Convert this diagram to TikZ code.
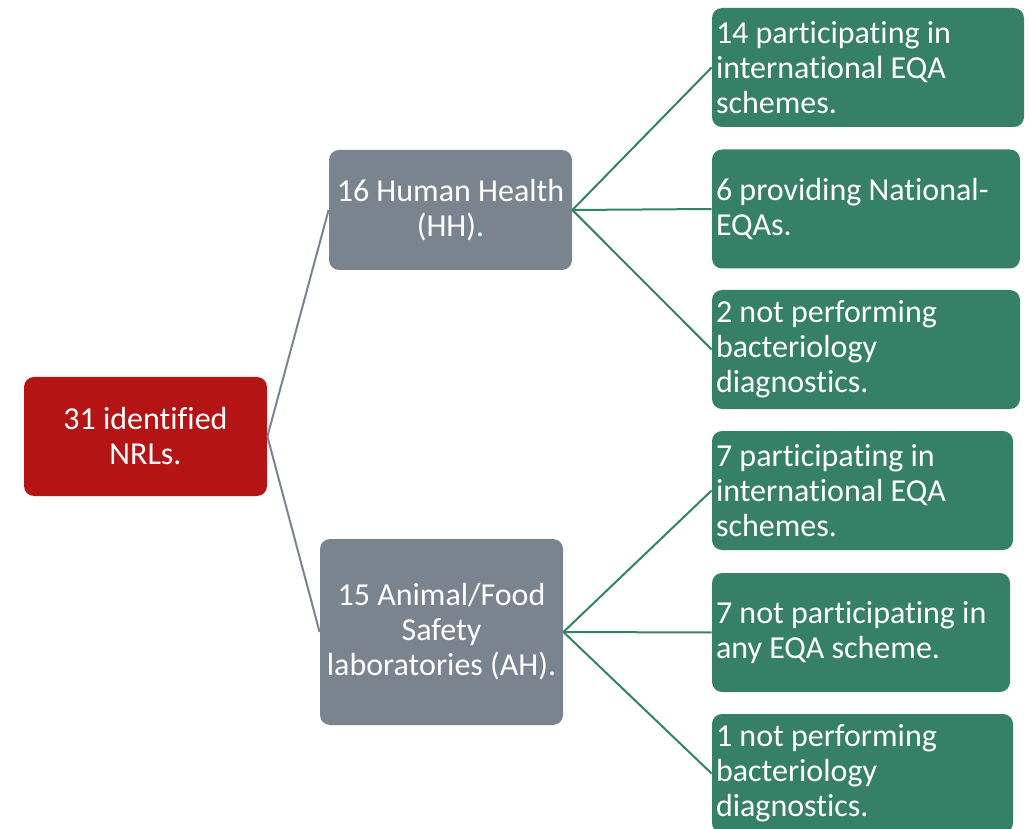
\documentclass[tikz,border=0pt]{standalone}
\usepackage{fontspec}
\setmainfont{Carlito}[Ligatures=NoCommon]
\usetikzlibrary{shapes,arrows,calc}
\definecolor{nrlred}{RGB}{180,21,20}
\definecolor{labgrey}{RGB}{122,132,142}
\definecolor{eqagreen}{RGB}{55,128,104}
\tikzstyle{rootbox} = [rectangle, rounded corners=5pt, fill=nrlred, text=white, minimum width=121.5pt, minimum height=59.5pt, align=center, font=\fontsize{16pt}{17.5pt}\selectfont]
\tikzstyle{labbox} = [rectangle, rounded corners=5pt, fill=labgrey, text=white, minimum width=121.5pt, align=center, font=\fontsize{16pt}{17.5pt}\selectfont]
\tikzstyle{eqabox} = [rectangle, rounded corners=5pt, fill=eqagreen, text=white, minimum height=59.5pt, inner sep=2pt, align=flush left, font=\fontsize{16pt}{17.5pt}\selectfont]
\tikzstyle{greyline} = [draw=labgrey, line width=1pt]
\tikzstyle{greenline} = [draw=eqagreen, line width=1pt]

\begin{document}
\begin{tikzpicture}[x=0.5pt, y=-0.5pt]
        \useasboundingbox (0,0) rectangle (1030,829);
        \clip (0,0) rectangle (1030,829);
        \node (nrl) [rootbox] at (145.5,436.5) {31 identified\\NRLs.};
        \node (hh) [labbox, minimum height=60pt] at (450.5,210) {16 Human Health\\(HH).};
        \node (ah) [labbox, minimum height=93pt] at (441.5,632) {15 Animal/Food\\Safety\\laboratories (AH).};

        \node (hhIntl) [eqabox, text width=152pt] at (868,67.5) {14 participating in\\international EQA\\schemes.};
        \node (hhNat) [eqabox, text width=150pt] at (866,209) {6 providing National-\\EQAs.};
        \node (hhNone) [eqabox, text width=150pt] at (866,349.5) {2 not performing\\bacteriology\\diagnostics.};
        \node (ahIntl) [eqabox, text width=146.5pt] at (862.5,490.5) {7 participating in\\international EQA\\schemes.};
        \node (ahNo) [eqabox, text width=145pt] at (861,632.5) {7 not participating in\\any EQA scheme.};
        \node (ahNone) [eqabox, text width=146.5pt] at (862.5,773.5) {1 not performing\\bacteriology\\diagnostics.};

        \path [greyline] (nrl.east) -- (hh.west);
        \path [greyline] (nrl.east) -- (ah.west);
        \path [greenline] (hh.east) -- (hhIntl.west);
        \path [greenline] (hh.east) -- (hhNat.west);
        \path [greenline] (hh.east) -- (hhNone.west);
        \path [greenline] (ah.east) -- (ahIntl.west);
        \path [greenline] (ah.east) -- (ahNo.west);
        \path [greenline] (ah.east) -- (ahNone.west);
    \end{tikzpicture}
\end{document}
